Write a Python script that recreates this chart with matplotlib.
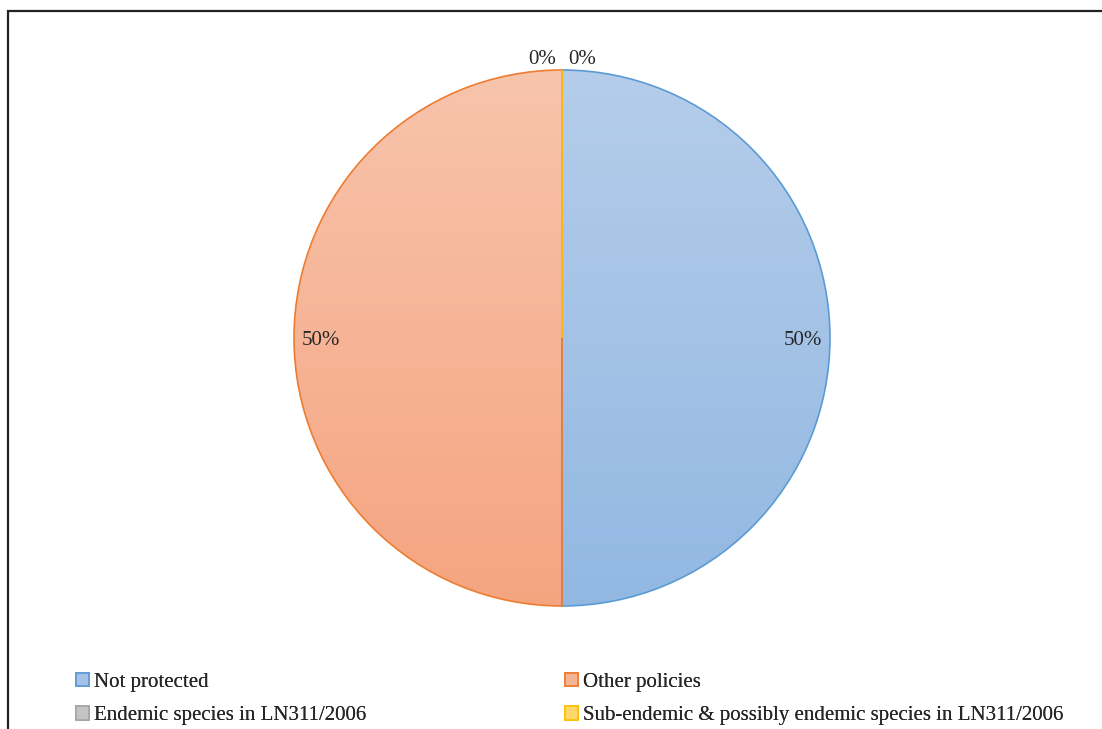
import numpy as np
import matplotlib

matplotlib.use("Agg")
import matplotlib.pyplot as plt
from matplotlib.patches import Rectangle, Patch
from matplotlib.colors import LinearSegmentedColormap

labels = [
    "Not protected",
    "Other policies",
    "Endemic species in LN311/2006",
    "Sub-endemic & possibly endemic species in LN311/2006",
]
values = [50, 50, 0, 0]

edge_colors = ["#5B9BD5", "#ED7D31", "#A5A5A5", "#FFC000"]
grad_top = ["#B5CDEA", "#F8C4AC", "#D2D2D2", "#FFE08A"]
grad_bottom = ["#92B8E2", "#F5A480", "#B5B5B5", "#FFD04D"]
mid_colors = ["#A4C2E6", "#F6B496", "#C4C4C4", "#FFD86B"]

plt.rcParams["font.family"] = ["Liberation Serif", "DejaVu Serif"]

W, H = 1102, 729
fig = plt.figure(figsize=(W / 100, H / 100), dpi=100)

# frame around the chart area (right and bottom edges are cut off in the source)
fig.patches.append(
    Rectangle((8 / W, -0.1), 1.2, (H - 11) / H + 0.1, transform=fig.transFigure,
              fill=False, edgecolor="#222222", linewidth=1.6, zorder=0)
)

cx, cy, r = 562, 338, 268
ax = fig.add_axes([(cx - r) / W, (H - cy - r) / H, 2 * r / W, 2 * r / H])

wedges, _ = ax.pie(
    values,
    colors=mid_colors,
    startangle=90,
    counterclock=False,
    wedgeprops=dict(linewidth=1.2),
)
for w, ec in zip(wedges, edge_colors):
    w.set_edgecolor(ec)

# vertical gradient fill clipped to each wedge
for w, top, bot in zip(wedges, grad_top, grad_bottom):
    if w.theta2 - w.theta1 <= 0:
        continue
    cmap = LinearSegmentedColormap.from_list("g", [bot, top])
    grad = np.linspace(0, 1, 256).reshape(-1, 1)
    im = ax.imshow(grad, cmap=cmap, extent=[-1, 1, -1, 1], origin="lower",
                   aspect="auto", zorder=w.get_zorder() - 0.5)
    im.set_clip_path(w)
    w.set_facecolor("none")

# percentage labels
total = sum(values)
zero_side = -1
for w, v in zip(wedges, values):
    ang = np.deg2rad((w.theta1 + w.theta2) / 2)
    pct = f"{v / total * 100:.0f}%"
    if v == 0:
        x, y = zero_side * 0.075, 1.05
        zero_side = 1
    else:
        x, y = 0.9 * np.cos(ang), 0.9 * np.sin(ang)
    ax.text(x, y, pct, ha="center", va="center_baseline", fontsize=15, color="#262626")

ax.set_xlim(-1, 1)
ax.set_ylim(-1, 1)
ax.set_aspect("equal")
ax.axis("off")

handles = [Patch(facecolor=m, edgecolor=e, linewidth=1.2)
           for m, e in zip(mid_colors, edge_colors)]

# legend laid out row-wise: left column (0, 2), right column (1, 3)
for col, x0 in zip([(0, 2), (1, 3)], [76, 565]):
    leg = fig.legend(
        [handles[i] for i in col], [labels[i] for i in col],
        loc="center left",
        bbox_to_anchor=(x0 / W, 1 - 699 / H),
        frameon=False, fontsize=15,
        handlelength=0.6, handleheight=0.6, handletextpad=0.28,
        labelspacing=0.7, borderpad=0, borderaxespad=0,
        labelcolor="#262626",
    )
    fig.add_artist(leg)

fig.savefig("out.png", dpi=100)
plt.close(fig)
